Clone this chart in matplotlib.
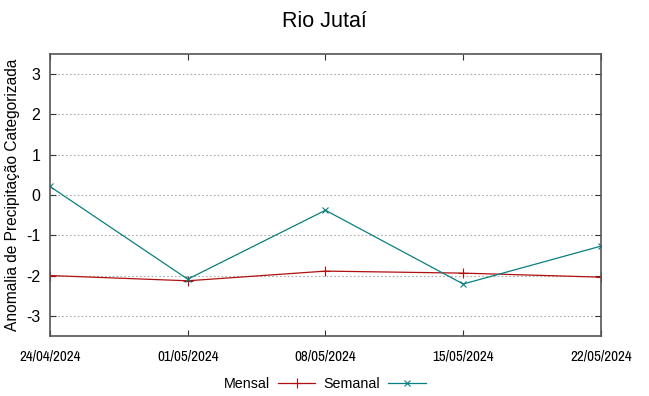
import numpy as np
import matplotlib
matplotlib.use("Agg")
import matplotlib.pyplot as plt
from datetime import datetime

datas = ["24/04/2024", "01/05/2024", "08/05/2024", "15/05/2024", "22/05/2024"]
mensal = [-2.0, -2.13, -1.89, -1.94, -2.04]
semanal = [0.21, -2.09, -0.38, -2.21, -1.27]
yticks = [-3, -2, -1, 0, 1, 2, 3]

plt.rcParams['font.family'] = ['Liberation Sans', 'DejaVu Sans']
plt.rcParams['axes.unicode_minus'] = False

x = [datetime.strptime(d, "%d/%m/%Y") for d in datas]

fig = plt.figure(figsize=(6.49, 3.96), dpi=100)
ax = fig.add_axes([0.077, 0.1515, 0.849, 0.7125])

ax.plot(x, mensal, color="#b01010", lw=0.9, marker="+", ms=6.5, mew=0.8, label="Mensal")
ax.plot(x, semanal, color="#0a7f7f", lw=0.9, marker="x", ms=4.5, mew=0.8, label="Semanal")

ax.set_xlim(x[0], x[-1])
ax.set_ylim(-3.5, 3.5)
ax.set_xticks(x)
ax.set_xticklabels(datas, fontsize=10.8, family=['Archivo Narrow', 'Liberation Sans', 'DejaVu Sans'])
ax.set_yticks(yticks)
ax.tick_params(axis='y', labelsize=11.5, pad=7)
ax.tick_params(direction='in', top=True, right=True, length=4, color='#333333')
ax.tick_params(axis='x', pad=10)
ax.grid(axis='y', ls=(0, (1.5, 2)), color='#aaaaaa', lw=0.8)
for s in ax.spines.values():
    s.set_color('#555555')
    s.set_linewidth(1.2)

ax.set_ylabel("Anomalia de Precipitação Categorizada", fontsize=11.2, labelpad=4)
fig.text(0.5, 1 - 27 / 396, "Rio Jutaí", fontsize=15.5, ha='center', va='baseline')

fig.legend(loc='center', bbox_to_anchor=(0.5, 1 - 384 / 396), ncol=2, frameon=False,
           markerfirst=False, fontsize=10.3, handlelength=2.6, columnspacing=0.58,
           handletextpad=0.58, borderpad=0, borderaxespad=0)

fig.savefig("out.png", dpi=100)
